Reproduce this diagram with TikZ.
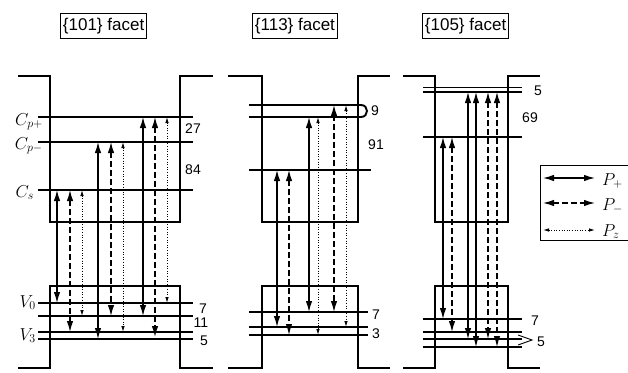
\documentclass[tikz,border=0pt]{standalone}
\usepackage{fontspec}
\setmainfont{Liberation Sans}
\usetikzlibrary{arrows.meta}
\begin{document}
\begin{tikzpicture}[x=1pt,y=-1pt,
  wall/.style={line width=1.6pt},
  lev/.style={line width=1.9pt},
  ps/.style={line width=1.3pt,{Latex[length=11pt,width=6.5pt]}-{Latex[length=11pt,width=6.5pt]}},
  pm/.style={ps,dash pattern=on 5.5pt off 3.5pt},
  pz/.style={line width=0.9pt,dash pattern=on 1pt off 1.6pt,{Latex[length=6pt,width=3.5pt]}-{Latex[length=6pt,width=3.5pt]}},
  num/.style={font=\fontsize{14}{14}\selectfont,inner sep=0pt},
  lab/.style={font=\fontsize{17}{17}\selectfont,inner sep=0pt,anchor=base east},
  titlebox/.style={draw,line width=0.9pt,font=\fontsize{17}{17}\selectfont,inner sep=2.5pt,minimum height=25pt,anchor=west}]
\useasboundingbox (0,0) rectangle (628,372);
% titles
\node[titlebox] (t1) at (60,26) {\{101\} facet};
\node[titlebox] (t2) at (252,26) {\{113\} facet};
\node[titlebox] (t3) at (422,26) {\{105\} facet};
% ---------- panel 1 ----------
\draw[wall] (18,76) -- (50,76) -- (50,222) -- (180,222) -- (180,76) -- (213,76);
\draw[wall] (18,368) -- (50,368) -- (50,286) -- (180,286) -- (180,368) -- (213,368);
\foreach \y in {117,142,190,303,316,332,339} \draw[lev] (38,\y) -- (193,\y);
\node[lab] (cpp) at (43,125) {$C_{p+}$};
\node[lab] (cpm) at (43,149) {$C_{p-}$};
\node[lab] (cs) at (34,197) {$C_s$};
\node[lab] (v0) at (36,307) {$V_0$};
\node[lab] (v3) at (36,340) {$V_3$};
\node[num] (n27) at (193,129) {27};
\node[num] (n84) at (193,170) {84};
\node[num] (n7a) at (203,309) {7};
\node[num] (n11) at (201,323) {11};
\node[num] (n5a) at (204,341) {5};
\draw[ps] (57,190) -- (57,303);
\draw[pm] (70,190) -- (70,332);
\draw[pz] (82,190) -- (82,316);
\draw[ps] (98,142) -- (98,339);
\draw[pm] (111,142) -- (111,316);
\draw[pz] (123,142) -- (123,332);
\draw[ps] (143,117) -- (143,316);
\draw[pm] (155,117) -- (155,337);
\draw[pz] (167,117) -- (167,303);
% ---------- panel 2 ----------
\draw[wall] (228,76) -- (262,76) -- (262,222) -- (358,222) -- (358,76) -- (390,76);
\draw[wall] (228,368) -- (262,368) -- (262,286) -- (358,286) -- (358,368) -- (390,368);
\draw[lev] (249,105) -- (361,105) .. controls (369,105) and (369,117) .. (361,117) -- (249,117);
\draw[lev] (249,170) -- (371,170);
\foreach \y in {312,327,335} \draw[lev] (249,\y) -- (368,\y);
\node[num] (n9) at (375,111) {9};
\node[num] (n91) at (376,145) {91};
\node[num] (n7b) at (376,315) {7};
\node[num] (n3) at (376,334) {3};
\draw[ps] (277,170) -- (277,327);
\draw[pm] (289,170) -- (289,335);
\draw[ps] (309,117) -- (309,312);
\draw[pz] (318,117) -- (318,335);
\draw[pm] (334,105) -- (334,312);
\draw[pz] (346,105) -- (346,327);
% ---------- panel 3 ----------
\draw[wall] (403,76) -- (435,76) -- (435,222) -- (508,222) -- (508,76) -- (540,76);
\draw[wall] (403,368) -- (435,368) -- (435,286) -- (508,286) -- (508,368) -- (540,368);
\foreach \y in {87.5,92} \draw[line width=1.3pt] (423,\y) -- (522,\y);
\foreach \y in {137,319,332,339,347} \draw[lev] (423,\y) -- (522,\y);
\node[num] (n5b) at (538,91) {5};
\node[num] (n69) at (530,118) {69};
\node[num] (n7c) at (535,321) {7};
\node[num] (n5c) at (541,342) {5};
\draw[line width=0.9pt] (518,335) -- (532,340) -- (518,345);
\draw[ps] (443,137) -- (443,319);
\draw[pm] (452,137) -- (452,332);
\draw[ps] (468,92) -- (468,339);
\draw[ps] (476,92) -- (476,347);
\draw[pm] (488,92) -- (488,339);
\draw[pm] (497,92) -- (497,347);
% ---------- legend ----------
\draw[line width=1pt] (631,165) -- (540,165) -- (540,240) -- (631,240);
\coordinate (la1) at (543,178); \coordinate (lb1) at (595,178);
\coordinate (la2) at (543,203); \coordinate (lb2) at (595,203);
\coordinate (la3) at (543,230); \coordinate (lb3) at (595,230);
\draw[ps] (la1) -- (lb1);
\draw[pm] (la2) -- (lb2);
\draw[pz] (la3) -- (lb3);
\node[lab,anchor=base west] (lp) at (602,185) {$P_+$};
\node[lab,anchor=base west] (lm) at (602,210) {$P_-$};
\node[lab,anchor=base west] (lz) at (602,236) {$P_z$};
\end{tikzpicture}
\end{document}
